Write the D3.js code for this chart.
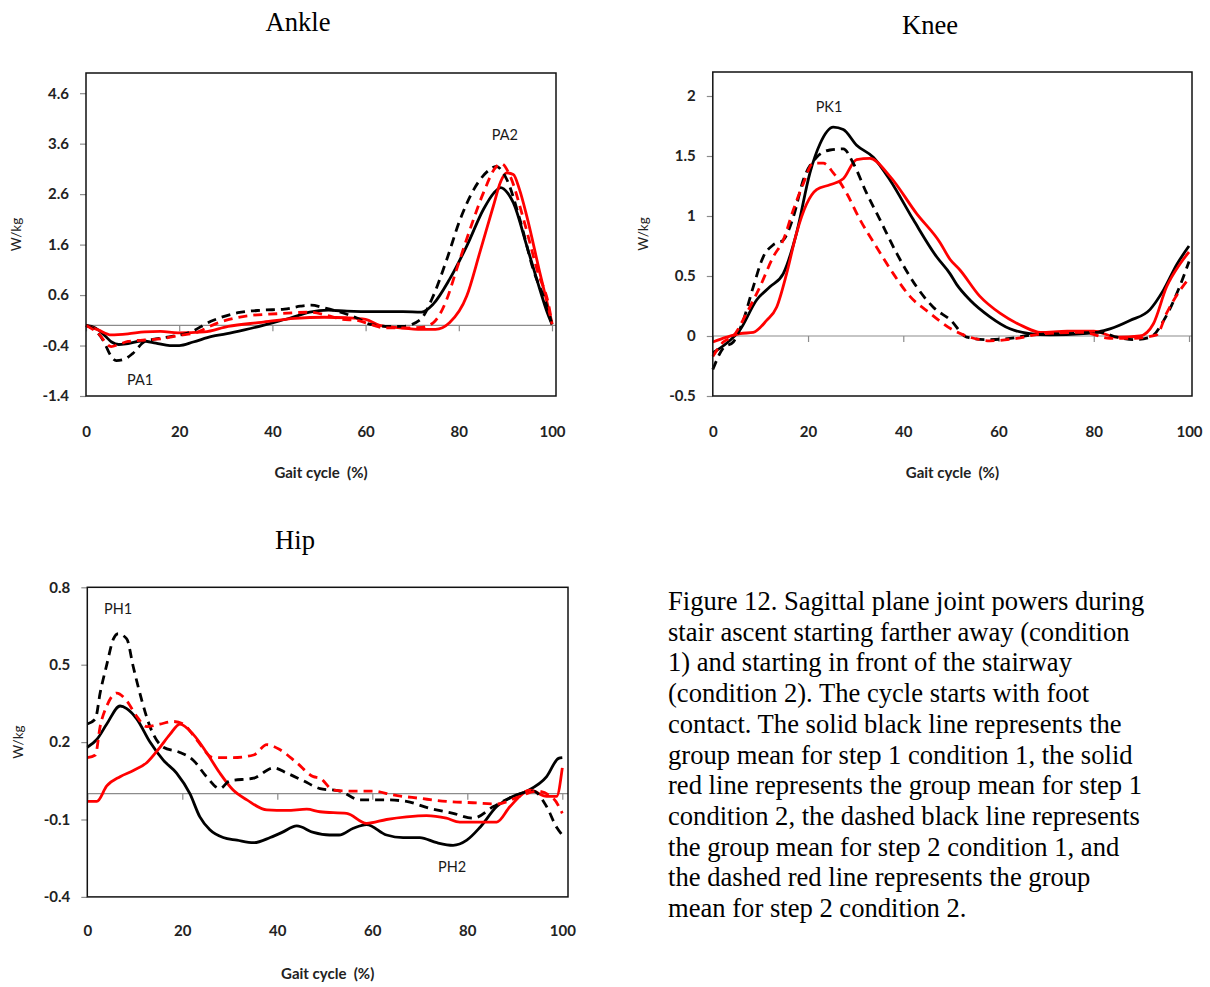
<!DOCTYPE html>
<html>
<head>
<meta charset="utf-8">
<script src="https://cdn.jsdelivr.net/npm/d3@7"></script>
<style>
  body { margin: 0; background: #fff; }
  #wrapper svg { display: block; }
</style>
</head>
<body>
<div id="wrapper"></div>
<script>
// values: [gait cycle %, W/kg]
const ankleS1C1 = [[0,0],[2,-0.05],[4,-0.2],[5.5,-0.33],[7,-0.38],[9,-0.36],[12,-0.31],[15,-0.35],[18,-0.4],[20,-0.4],[23,-0.33],[27,-0.22],[30,-0.17],[34,-0.09],[38,0.0],[40,0.05],[44,0.15],[48,0.26],[52,0.3],[56,0.28],[62,0.27],[68,0.27],[72,0.26],[74.5,0.42],[78,0.91],[81.7,1.57],[85.3,2.3],[87.5,2.62],[89,2.73],[90.5,2.62],[91.7,2.43],[94.6,1.57],[97.4,0.71],[99,0.25],[100,0.02]]
const ankleS1C2 = [[0,0],[2.6,-0.09],[5.4,-0.19],[9,-0.17],[12.6,-0.13],[16,-0.12],[19.7,-0.15],[25.4,-0.13],[30.5,-0.02],[37.6,0.06],[44.8,0.14],[51.2,0.16],[56,0.15],[60,0.12],[63,0.0],[67.4,-0.05],[72,-0.08],[75,-0.08],[78,0.05],[81.7,0.58],[84.5,1.44],[87.4,2.36],[89,2.85],[90.3,3.02],[91.7,2.99],[93,2.7],[94.6,2.16],[97.4,1.04],[99.2,0.35],[100,0.05]]
const ankleS2C1 = [[0,0],[2,-0.1],[4,-0.35],[5,-0.55],[6.5,-0.7],[8,-0.68],[10,-0.56],[12.6,-0.32],[15,-0.27],[18.4,-0.22],[22,-0.15],[26.8,0.08],[32.6,0.25],[37.6,0.3],[42.6,0.32],[46,0.38],[48.3,0.4],[51,0.35],[55,0.25],[58,0.15],[61,0.02],[65,-0.02],[68,-0.02],[71.7,0.11],[74.5,0.58],[77.4,1.3],[80.3,2.1],[83.2,2.69],[86.7,3.09],[88,3.15],[90.3,2.89],[93.1,2.1],[96,1.1],[98.9,0.38],[100,0.02]]
const ankleS2C2 = [[0,0],[2.5,-0.15],[5.4,-0.42],[7,-0.38],[9,-0.32],[12.6,-0.29],[16,-0.27],[20,-0.2],[23.4,-0.15],[28.3,0.05],[34,0.18],[41,0.23],[48,0.26],[51.6,0.2],[55,0.12],[58,0.1],[61,0.02],[64,-0.05],[68,-0.05],[72,-0.04],[74.5,0.05],[77.4,0.51],[79.5,1.1],[82.4,1.9],[85.3,2.63],[88.1,3.15],[89.2,3.2],[91,2.96],[93.9,2.1],[96.8,1.1],[99.6,0.25],[100,0.02]]

const kneeS1C1 = [[0,-0.14],[2.9,-0.06],[5.7,0.05],[9.2,0.3],[12,0.41],[14.8,0.52],[17.6,0.86],[20.4,1.36],[22.5,1.6],[25.3,1.74],[27.4,1.72],[30.2,1.59],[33.7,1.49],[37.2,1.3],[42.1,0.97],[47,0.66],[49.8,0.52],[51.2,0.43],[54,0.3],[58.2,0.16],[62.4,0.06],[66.6,0.02],[70.8,0.01],[77.8,0.02],[83.4,0.06],[87.6,0.13],[91.8,0.22],[94.6,0.38],[97.5,0.6],[100,0.75]]
const kneeS1C2 = [[0,-0.05],[2.9,-0.01],[5.7,0.02],[8.5,0.03],[11.3,0.13],[13.4,0.24],[15.5,0.52],[17.6,0.86],[19.7,1.1],[21.8,1.22],[24.6,1.26],[27.4,1.31],[30.2,1.47],[33,1.48],[37.2,1.33],[42.8,1.02],[47.7,0.78],[49.8,0.64],[51.9,0.55],[56.1,0.33],[60.3,0.19],[65.2,0.08],[68.8,0.03],[74.4,0.04],[80,0.04],[84.9,-0.01],[89.7,0.0],[92.5,0.1],[95.3,0.41],[98.1,0.6],[100,0.7]]
const kneeS2C1 = [[0,-0.28],[2.2,-0.1],[4.3,-0.05],[6.4,0.13],[8.5,0.41],[10.6,0.66],[12.7,0.76],[14.8,0.8],[16.9,0.99],[19,1.3],[21.8,1.49],[24.6,1.55],[27.4,1.56],[29.5,1.44],[32.3,1.19],[35.1,0.97],[38.6,0.69],[42.8,0.41],[46.3,0.24],[50,0.13],[53.3,-0.01],[57.5,-0.03],[62.4,-0.02],[67.3,0.01],[74.3,0.02],[81.3,0.03],[84.9,-0.01],[88.4,-0.03],[91.9,-0.01],[94.7,0.13],[97.5,0.36],[100,0.62]]
const kneeS2C2 = [[0,-0.17],[2.2,-0.05],[4.3,0.0],[7.1,0.19],[9.9,0.41],[12.7,0.66],[14.8,0.8],[16.9,1.05],[19,1.27],[21.1,1.44],[23.2,1.44],[25.3,1.36],[28.1,1.19],[30.9,0.97],[34.4,0.74],[37.9,0.52],[41.4,0.33],[45.6,0.19],[50,0.06],[54,-0.01],[58.2,-0.04],[63.8,-0.02],[69.4,0.02],[77.8,0.03],[83.4,-0.02],[87.6,-0.02],[93.2,0.01],[95.3,0.19],[98.1,0.38],[100,0.48]]

const hipS1C1 = [[0,0.18],[2,0.21],[4.1,0.27],[6.9,0.34],[8.3,0.33],[10.4,0.29],[13.2,0.2],[16,0.13],[18.8,0.08],[21.6,0.0],[23.7,-0.09],[25.8,-0.14],[28.6,-0.17],[31.5,-0.18],[35,-0.19],[38.5,-0.17],[41,-0.15],[44.1,-0.125],[47.6,-0.15],[51,-0.16],[53,-0.16],[56,-0.134],[58.8,-0.12],[63,-0.16],[66.5,-0.17],[70,-0.17],[73.6,-0.19],[77,-0.2],[79.9,-0.18],[82.7,-0.13],[86.2,-0.05],[89.7,-0.01],[92.5,0.01],[96.7,0.066],[99.2,0.137],[100,0.14]]
const hipS1C2 = [[0,-0.03],[2,-0.03],[4.1,0.03],[6.9,0.066],[9.7,0.09],[12.5,0.12],[15.3,0.18],[17.4,0.23],[19.5,0.27],[22.3,0.23],[25.1,0.16],[27.9,0.08],[30.7,0.014],[33.6,-0.024],[37.8,-0.063],[42,-0.065],[46.2,-0.06],[49,-0.07],[54.6,-0.076],[58.8,-0.115],[63,-0.1],[67.2,-0.09],[71.4,-0.085],[75.6,-0.095],[78.4,-0.11],[82.6,-0.11],[86.2,-0.11],[89,-0.05],[93.2,0.014],[96.7,-0.01],[98.8,-0.01],[100,0.1]]
const hipS2C1 = [[0,0.27],[1.7,0.29],[2.7,0.39],[4.1,0.5],[5.5,0.6],[6.5,0.62],[8.3,0.6],[9.7,0.49],[11.5,0.36],[13.2,0.26],[16,0.18],[19.5,0.16],[22.3,0.13],[25.1,0.066],[27.9,0.02],[30,0.05],[35,0.06],[39.2,0.1],[42,0.08],[45.5,0.05],[49,0.02],[53.2,0.01],[57.4,-0.024],[63,-0.024],[67.2,-0.03],[72.1,-0.057],[77,-0.076],[81.2,-0.095],[85.5,-0.05],[89.7,-0.01],[93.9,0.01],[96.7,-0.05],[98.8,-0.13],[100,-0.16]]
const hipS2C2 = [[0,0.14],[1.7,0.15],[2.7,0.26],[4.1,0.34],[6.2,0.39],[8.3,0.36],[10.4,0.3],[12.5,0.26],[15.3,0.27],[18.1,0.28],[20.2,0.27],[23,0.21],[26.5,0.14],[30.7,0.14],[35,0.15],[37.8,0.19],[40.6,0.17],[44.1,0.12],[47.6,0.066],[49,0.06],[51.8,0.014],[56,0.01],[60.2,0.01],[64.4,-0.005],[70,-0.018],[75.6,-0.03],[81.2,-0.035],[86.2,-0.04],[91.1,-0.01],[94.6,0.01],[98.1,-0.018],[100,-0.076]]

const xTicks = [0, 20, 40, 60, 80, 100]
const ankleTicks = [-1.4, -0.4, 0.6, 1.6, 2.6, 3.6, 4.6]
const kneeTicks = [-0.5, 0, 0.5, 1, 1.5, 2]
const hipTicks = [-0.4, -0.1, 0.2, 0.5, 0.8]

// peak labels: [text, gait %, W/kg]
const ankleLabels = [["PA1", 11.6, -1.1], ["PA2", 89.9, 3.74]]
const kneeLabels = [["PK1", 24.4, 1.9]]
const hipLabels = [["PH1", 6.5, 0.71], ["PH2", 76.8, -0.29]]

const captionLines = [
  "Figure 12. Sagittal plane joint powers during",
  "stair ascent starting farther away (condition",
  "1) and starting in front of the stairway",
  "(condition 2). The cycle starts with foot",
  "contact. The solid black line represents the",
  "group mean for step 1 condition 1, the solid",
  "red line represents the group mean for step 1",
  "condition 2, the dashed black line represents",
  "the group mean for step 2 condition 1, and",
  "the dashed red line represents the group",
  "mean for step 2 condition 2."
]

const seriesStyle = [
  {color: "#000000", dash: null},     // step 1 condition 1
  {color: "#ff0000", dash: null},     // step 1 condition 2
  {color: "#000000", dash: "9,6"},    // step 2 condition 1
  {color: "#ff0000", dash: "9,6"},    // step 2 condition 2
]

const tickFont = "Lato, 'Open Sans', sans-serif"
const serifFont = "'Liberation Serif', 'Times New Roman', serif"

const svg = d3.select("#wrapper")
  .append("svg")
  .attr("width", 1210)
  .attr("height", 987)

function drawPanel(p) {
  const x = d3.scaleLinear().domain([0, 100]).range([p.left, p.xEnd])
  const y = d3.scaleLinear().domain(p.yDomain).range([p.bottom, p.top])
  const g = svg.append("g")

  // title
  g.append("text")
    .attr("x", p.titleX).attr("y", p.titleY)
    .attr("text-anchor", "middle")
    .style("font-family", serifFont)
    .style("font-size", "26.6px")
    .text(p.title)

  // zero line + x ticks (pointing down)
  g.append("line")
    .attr("x1", p.left).attr("x2", p.right)
    .attr("y1", y(0)).attr("y2", y(0))
    .attr("stroke", "#8c8c8c").attr("stroke-width", 1.2)

  const xTickAxis = g.append("g")
    .attr("transform", `translate(0,${y(0)})`)
    .call(d3.axisBottom(x).tickValues(xTicks).tickSize(6).tickFormat(""))
  xTickAxis.select(".domain").remove()
  xTickAxis.selectAll(".tick line").attr("stroke", "#8c8c8c").attr("stroke-width", 1.2)

  // x labels below frame
  const xLab = g.append("g")
    .attr("transform", `translate(0,${p.bottom})`)
    .call(d3.axisBottom(x).tickValues(xTicks).tickSize(0).tickPadding(p.xPad).tickFormat(d3.format("d")))
  xLab.select(".domain").remove()
  xLab.selectAll("text")
    .style("font-family", tickFont).style("font-size", "15px").style("font-weight", "bold").attr("fill", "#222")

  // y axis
  const yAx = g.append("g")
    .attr("transform", `translate(${p.left},0)`)
    .call(d3.axisLeft(y).tickValues(p.yTicks).tickSize(6).tickPadding(11).tickFormat(d => String(d)))
  yAx.select(".domain").remove()
  yAx.selectAll(".tick line").attr("stroke", "#8c8c8c").attr("stroke-width", 1.2)
  yAx.selectAll("text")
    .style("font-family", tickFont).style("font-size", "15px").style("font-weight", "bold").attr("fill", "#222")

  // series
  const line = d3.line()
    .x(d => x(d[0]))
    .y(d => y(d[1]))
    .curve(d3.curveMonotoneX)

  p.series.forEach(function(s, i) {
    g.append("path")
      .datum(s)
      .attr("d", line)
      .attr("fill", "none")
      .attr("stroke", seriesStyle[i].color)
      .attr("stroke-width", 2.8)
      .attr("stroke-dasharray", seriesStyle[i].dash)
      .attr("stroke-linejoin", "round")
  })

  // frame
  g.append("rect")
    .attr("x", p.left).attr("y", p.top)
    .attr("width", p.right - p.left).attr("height", p.bottom - p.top)
    .attr("fill", "none").attr("stroke", "#111").attr("stroke-width", 1.5)

  // peak labels
  g.selectAll(".peak")
    .data(p.labels)
    .join("text")
    .attr("class", "peak")
    .attr("x", d => x(d[1])).attr("y", d => y(d[2]))
    .attr("text-anchor", "middle")
    .attr("dominant-baseline", "middle")
    .style("font-family", tickFont).style("font-size", "14.5px").attr("fill", "#1a1a1a")
    .text(d => d[0])

  // axis titles
  g.append("text")
    .attr("x", (p.left + p.right) / 2).attr("y", p.bottom + p.xTitleOff)
    .attr("text-anchor", "middle")
    .attr("dominant-baseline", "middle")
    .style("font-family", tickFont).style("font-size", "15px").style("font-weight", "bold").attr("fill", "#222")
    .attr("xml:space", "preserve")
    .text("Gait cycle  (%)")

  g.append("text")
    .attr("transform", `translate(${p.left - 68},${(p.top + p.bottom) / 2}) rotate(-90)`)
    .attr("text-anchor", "middle")
    .attr("dominant-baseline", "middle")
    .style("font-family", tickFont).style("font-size", "13.5px").attr("fill", "#222")
    .text("W/kg")
}

drawPanel({
  title: "Ankle", titleX: 298, titleY: 31,
  left: 86, xEnd: 552, right: 556, top: 73, bottom: 396,
  yDomain: [-1.4, 5.0], yTicks: ankleTicks,
  series: [ankleS1C1, ankleS1C2, ankleS2C1, ankleS2C2],
  labels: ankleLabels, xPad: 30, xTitleOff: 78
})

drawPanel({
  title: "Knee", titleX: 930, titleY: 34,
  left: 712.8, xEnd: 1189, right: 1192, top: 72, bottom: 396,
  yDomain: [-0.5, 2.2], yTicks: kneeTicks,
  series: [kneeS1C1, kneeS1C2, kneeS2C1, kneeS2C2],
  labels: kneeLabels, xPad: 30, xTitleOff: 78
})

drawPanel({
  title: "Hip", titleX: 295, titleY: 549,
  left: 87.3, xEnd: 562.3, right: 568, top: 587.3, bottom: 896.9,
  yDomain: [-0.4, 0.8], yTicks: hipTicks,
  series: [hipS1C1, hipS1C2, hipS2C1, hipS2C2],
  labels: hipLabels, xPad: 28, xTitleOff: 78
})

// caption
svg.append("text")
  .attr("x", 668).attr("y", 610)
  .style("font-family", serifFont)
  .style("font-size", "26.6px")
  .attr("fill", "#000")
  .selectAll("tspan")
  .data(captionLines)
  .join("tspan")
  .attr("x", 668)
  .attr("dy", (d, i) => i === 0 ? 0 : 30.7)
  .text(d => d)
</script>
</body>
</html>
